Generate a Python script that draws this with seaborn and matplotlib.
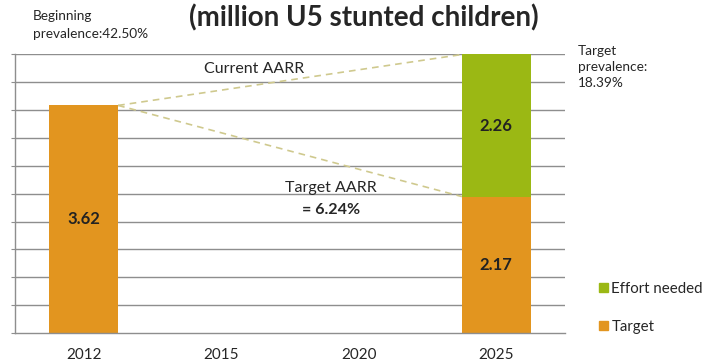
import seaborn as sns
import matplotlib.pyplot as plt
from matplotlib.patches import Patch
import pandas as pd

# data (million U5 stunted children)
years = ['2012', '2015', '2020', '2025']
target = [3.62, 0, 0, 2.17]
effort = [0, 0, 0, 2.26]
total = [t + e for t, e in zip(target, effort)]

orange = '#E2951F'
green = '#9BB814'
dash_col = '#CFC98E'

sns.set_style('white')
plt.rcParams['font.family'] = ['Lato', 'DejaVu Sans']

df = pd.DataFrame({'year': years, 'target': target, 'effort': effort, 'total': total})

fig = plt.figure(figsize=(7.18, 3.63), dpi=100)
ax = fig.add_axes([15 / 718, 30 / 363, 550 / 718, 278.5 / 363])

# stacked bars: total in green, target on top of it in orange
sns.barplot(data=df, x='year', y='total', color=green, width=0.5, saturation=1, linewidth=0, ax=ax)
sns.barplot(data=df, x='year', y='target', color=orange, width=0.5, saturation=1, linewidth=0, ax=ax)

ymax = total[3]
ax.set_ylim(0, ymax)
ax.set_xlim(-0.5, 3.5)
grid = [ymax * i / 10 for i in range(11)]
ax.set_yticks(grid)
ax.set_yticklabels([])
for g in grid[1:]:
    ax.axhline(g, color='#8E8E8E', lw=1, zorder=0)
ax.set_xlabel('')
ax.set_ylabel('')
ax.set_xticks(range(4))
ax.set_xticklabels(years, fontsize=11)
ax.set_xticks([-0.5, 0.5, 1.5, 2.5, 3.5], minor=True)
ax.tick_params(axis='x', which='major', length=0, pad=11)
ax.tick_params(axis='x', which='minor', length=4, color='#8E8E8E', direction='out')
ax.tick_params(axis='y', length=3, color='#8E8E8E', direction='out', left=True)
for s in ['top', 'right']:
    ax.spines[s].set_visible(False)
for s in ['left', 'bottom']:
    ax.spines[s].set_color('#8E8E8E')
    ax.spines[s].set_linewidth(1)

# dashed AARR lines
ax.plot([0.25, 2.75], [target[0], total[3]], ls='--', color=dash_col, lw=1.2, dashes=(4, 3))
ax.plot([0.25, 2.75], [target[0], target[3]], ls='--', color=dash_col, lw=1.2, dashes=(4, 3))

# value labels
ax.text(0, target[0] / 2, f'{target[0]:.2f}', ha='center', va='center', fontsize=12, fontweight='bold', color='#222222')
ax.text(3, target[3] / 2, f'{target[3]:.2f}', ha='center', va='center', fontsize=12, fontweight='bold', color='#222222')
ax.text(3, target[3] + effort[3] / 2, f'{effort[3]:.2f}', ha='center', va='center', fontsize=12, fontweight='bold', color='#222222')

# annotations
ax.text(1.24, 4.2, 'Current AARR', ha='center', va='center', fontsize=11.5)
ax.text(1.8, 2.3, 'Target AARR', ha='center', va='center', fontsize=11.5)
ax.text(1.8, 1.95, '= 6.24%', ha='center', va='center', fontsize=11.5, fontweight='bold')

fig.text(364 / 718, 1 - 18 / 363, '(million U5 stunted children)', ha='center', va='center',
         fontsize=20, fontweight='bold')
fig.text(33 / 718, 1 - 25 / 363, 'Beginning\nprevalence:42.50%', ha='left', va='center',
         fontsize=9.8, linespacing=1.55)
fig.text(578 / 718, 1 - 67 / 363, 'Target\nprevalence:\n18.39%', ha='left', va='center',
         fontsize=9.8, linespacing=1.4)

handles = [Patch(color=green, label='Effort needed'), Patch(color=orange, label='Target')]
fig.legend(handles=handles, loc='center left', bbox_to_anchor=(585 / 718, 1 - 308 / 363),
           frameon=False, fontsize=10.8, handlelength=0.6, handleheight=0.6,
           handletextpad=0.25, labelspacing=1.6)

plt.savefig('out.png', dpi=100)
plt.close('all')
